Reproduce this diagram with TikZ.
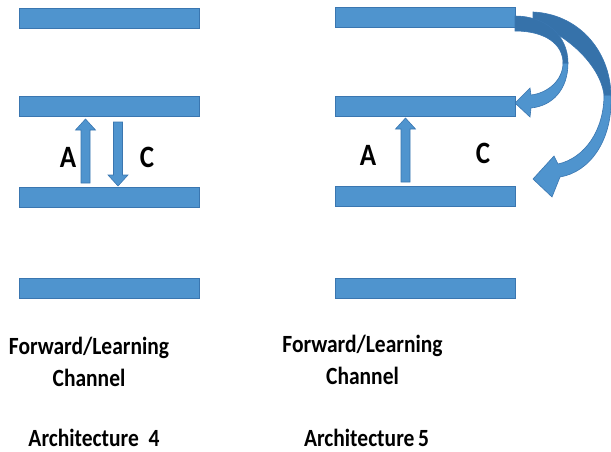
\documentclass[tikz,border=0pt]{standalone}
\usepackage{fontspec}
\setmainfont{Carlito}
\usetikzlibrary{calc}
\definecolor{barfill}{RGB}{79,148,206}
\definecolor{barline}{RGB}{58,118,176}
\definecolor{backfill}{RGB}{54,114,170}
\tikzset{
  bar/.style={draw=barline, fill=barfill, line width=0.6pt, minimum width=180pt, minimum height=20pt, inner sep=0pt},
  arr/.style={draw=barline, fill=barfill, line width=0.6pt, line join=miter},
  backarr/.style={draw=barline, fill=backfill, line width=0.6pt},
  lbl/.style={font=\bfseries\fontsize{27}{30}\selectfont, inner sep=0pt},
  captxt/.style={font=\bfseries\fontsize{21.5}{26}\selectfont, inner sep=0pt}
}
\newcommand{\vblockarrow}[2]{%
  \filldraw[arr] let \p1=(#1), \p2=(#2), \n1={sign(\y2-\y1)} in
    (\x1-4.5,\y1) -- (\x1-4.5,\y2-\n1*11) -- (\x1-10,\y2-\n1*11) -- (\x2,\y2)
    -- (\x1+10,\y2-\n1*11) -- (\x1+4.5,\y2-\n1*11) -- (\x1+4.5,\y1) -- cycle;}
\newcommand{\tall}[1]{\scalebox{1}[1.15]{#1}}
\begin{document}
\begin{tikzpicture}[x=1pt,y=-1pt]
\useasboundingbox (0,0) rectangle (611,452);
% left column
\node[bar] (L1) at (109,18) {};
\node[bar] (L2) at (109,106.5) {};
\node[bar] (L3) at (109,197) {};
\node[bar] (L4) at (109,288) {};
% right column
\node[bar] (R1) at (425,17.5) {};
\node[bar] (R2) at (425,106) {};
\node[bar] (R3) at (425,196) {};
\node[bar] (R4) at (425,288) {};
% straight arrows
\coordinate (aLs) at (85.5,183);
\coordinate (aLe) at (85.5,119);
\coordinate (cLs) at (118,122);
\coordinate (cLe) at (118,186);
\coordinate (aRs) at (405.5,182);
\coordinate (aRe) at (405.5,118);
\vblockarrow{aLs}{aLe}
\vblockarrow{cLs}{cLe}
\vblockarrow{aRs}{aRe}
% labels
\node[lbl] (A1) at (68,157) {\tall{A}};
\node[lbl] (C1) at (147,157) {\tall{C}};
\node[lbl] (A2) at (368,155) {\tall{A}};
\node[lbl] (C2) at (483,153) {\tall{C}};
% big curved arrow (R1 -> R3)
\filldraw[arr] (611,95) .. controls (613,140) and (590,172) .. (560,177)
  -- (552,197) -- (533,179) -- (554,156) -- (558,164)
  .. controls (585,158) and (604,130) .. (604,95) -- cycle;
\filldraw[backarr] (533,12) .. controls (578,14) and (610,50) .. (611,95)
  -- (604,95) .. controls (600,62) and (560,30) .. (533,24) -- cycle;
% small curved arrow (R1 -> R2)
\filldraw[arr] (568,63) .. controls (568,90) and (552,106) .. (531,108)
  -- (530,117) -- (515,103) -- (530,88) -- (531,95)
  .. controls (548,93) and (563,80) .. (563,63) -- cycle;
\filldraw[backarr] (515,16) .. controls (545,16) and (568,35) .. (568,63)
  -- (563,63) .. controls (563,44) and (545,31) .. (515,31) -- cycle;
% captions
\node[captxt] (F1a) at (89,348) {\tall{Forward/Learning}};
\node[captxt] (F1b) at (89,378) {\tall{Channel}};
\node[captxt] (F2a) at (362.5,346) {\tall{Forward/Learning}};
\node[captxt] (F2b) at (362.5,376) {\tall{Channel}};
\node[captxt] (T1) at (94,438) {\tall{Architecture\ \ 4}};
\node[captxt] (T2) at (366.5,438) {\tall{Architecture\,5}};
\end{tikzpicture}
\end{document}
